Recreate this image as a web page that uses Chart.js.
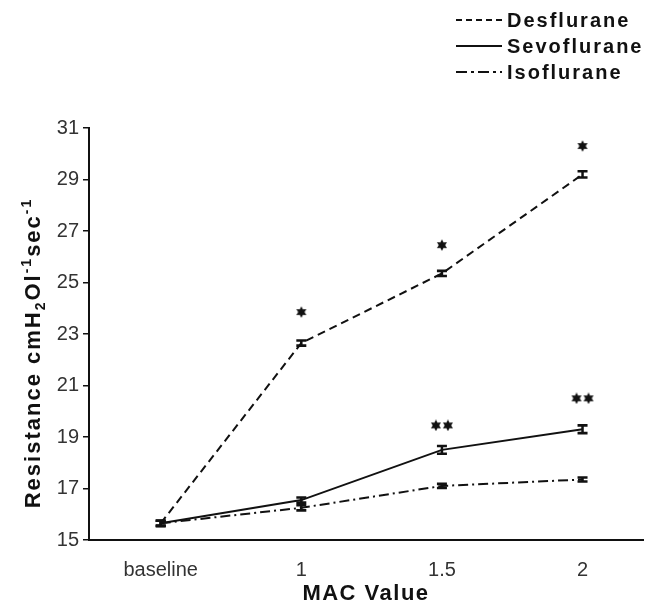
<!DOCTYPE html>
<html>
<head>
<meta charset="utf-8">
<script src="https://cdn.jsdelivr.net/npm/chart.js@4/dist/chart.umd.min.js"></script>
<style>
  body { margin: 0; background: #fff; }
  #wrap { position: relative; width: 650px; height: 605px; }
  #legend {
    position: absolute; left: 456px; top: 7px;
    font: bold 20px "Liberation Sans", Arial, sans-serif;
    letter-spacing: 2px; color: #111;
  }
  .item { display: flex; align-items: center; height: 26px; }
  .item svg { margin-right: 5px; }
</style>
</head>
<body>
<div id="wrap">
  <canvas id="c" width="650" height="605"></canvas>
  <div id="legend"></div>
</div>
<script>
const FONT = '"Liberation Sans", Arial, sans-serif';

// data
const categories = ["baseline", "1", "1.5", "2"];
const desflurane = [15.65, 22.65, 25.35, 29.2];
const sevoflurane = [15.65, 16.55, 18.5, 19.3];
const isoflurane = [15.65, 16.25, 17.1, 17.35];
const desErr = [0.1, 0.1, 0.1, 0.12];
const sevoErr = [0.1, 0.1, 0.15, 0.15];
const isoErr = [0.1, 0.1, 0.08, 0.08];
// significance marks: [category index, y position]
const singleStars = [[1, 23.85], [2, 26.45], [3, 30.3]];
const doubleStars = [[2, 19.45], [3, 20.5]];
const yTicks = [15, 17, 19, 21, 23, 25, 27, 29, 31];

const series = [
    { label: "Desflurane", values: desflurane, err: desErr, dash: [8, 5], svgDash: "6 4" },
    { label: "Sevoflurane", values: sevoflurane, err: sevoErr, dash: [], svgDash: "" },
    { label: "Isoflurane", values: isoflurane, err: isoErr, dash: [10, 4, 2, 4], svgDash: "11 4 3 4" }
];

// star markers (filled six-pointed)
function starImage(count) {
    const c = document.createElement("canvas");
    const gap = 12;
    c.width = 12 + gap * (count - 1);
    c.height = 12;
    const g = c.getContext("2d");
    g.fillStyle = "#111";
    for (let k = 0; k < count; k++) {
        const cx = 6 + k * gap, cy = 6;
        g.beginPath();
        for (let i = 0; i < 12; i++) {
            const r = i % 2 === 0 ? 5.8 : 3.2;
            const a = -Math.PI / 2 + i * Math.PI / 6;
            const px = cx + r * Math.cos(a), py = cy + r * Math.sin(a);
            if (i === 0) g.moveTo(px, py); else g.lineTo(px, py);
        }
        g.closePath();
        g.fill();
    }
    return c;
}
const star1 = starImage(1);
const star2 = starImage(2);

const datasets = series.map(s => ({
    label: s.label,
    data: s.values.map((v, i) => ({ x: i, y: v })),
    errors: s.err,
    borderColor: "#111",
    borderWidth: 2,
    borderDash: s.dash,
    pointRadius: 0,
    fill: false,
    tension: 0
}));
datasets.push({
    label: "sig",
    data: singleStars.map(p => ({ x: p[0], y: p[1] })).concat(doubleStars.map(p => ({ x: p[0], y: p[1] }))),
    showLine: false,
    pointStyle: singleStars.map(() => star1).concat(doubleStars.map(() => star2)),
    pointRadius: 6
});

// error bars drawn through the scales
const errorBars = {
    id: "errorBars",
    afterDatasetsDraw(chart) {
        const ctx = chart.ctx;
        const yScale = chart.scales.y;
        ctx.save();
        ctx.strokeStyle = "#111";
        ctx.setLineDash([]);
        chart.data.datasets.forEach((ds, di) => {
            if (!ds.errors) return;
            chart.getDatasetMeta(di).data.forEach((pt, i) => {
                const v = ds.data[i].y, e = ds.errors[i];
                const top = yScale.getPixelForValue(v + e);
                const bot = yScale.getPixelForValue(v - e);
                ctx.lineWidth = 2.5;
                ctx.beginPath();
                ctx.moveTo(pt.x, top); ctx.lineTo(pt.x, bot);
                ctx.stroke();
                ctx.lineWidth = 2.6;
                ctx.beginPath();
                ctx.moveTo(pt.x - 5, top); ctx.lineTo(pt.x + 5, top);
                ctx.moveTo(pt.x - 5, bot); ctx.lineTo(pt.x + 5, bot);
                ctx.stroke();
            });
        });
        ctx.restore();
    }
};

// axis titles (y title has sub/superscripts)
const axisTitles = {
    id: "axisTitles",
    afterDraw(chart) {
        const ctx = chart.ctx;
        const area = chart.chartArea;
        ctx.save();
        ctx.fillStyle = "#111";
        ctx.textBaseline = "alphabetic";
        if ("letterSpacing" in ctx) ctx.letterSpacing = "1.5px";
        ctx.font = "bold 22px " + FONT;
        ctx.textAlign = "center";
        ctx.fillText("MAC Value", (area.left + area.right) / 2, 600);

        if ("letterSpacing" in ctx) ctx.letterSpacing = "2px";
        const parts = [
            { t: "Resistance cmH", size: 22, dy: 0 },
            { t: "2", size: 14, dy: 5 },
            { t: "Ol", size: 22, dy: 0 },
            { t: "-1", size: 14, dy: -9 },
            { t: "sec", size: 22, dy: 0 },
            { t: "-1", size: 14, dy: -9 }
        ];
        ctx.textAlign = "left";
        let total = 0;
        parts.forEach(p => {
            ctx.font = "bold " + p.size + "px " + FONT;
            p.w = ctx.measureText(p.t).width;
            total += p.w;
        });
        ctx.translate(40, 353);
        ctx.rotate(-Math.PI / 2);
        let x = -total / 2;
        parts.forEach(p => {
            ctx.font = "bold " + p.size + "px " + FONT;
            ctx.fillText(p.t, x, p.dy);
            x += p.w;
        });
        ctx.restore();
    }
};

new Chart(document.getElementById("c"), {
    type: "line",
    data: { datasets },
    options: {
        responsive: false,
        animation: false,
        layout: { padding: { top: 128, right: 5, left: 0, bottom: 0 } },
        plugins: { legend: { display: false }, tooltip: { enabled: false } },
        scales: {
            x: {
                type: "linear",
                min: -0.51,
                max: 3.43,
                afterBuildTicks: scale => { scale.ticks = categories.map((c, i) => ({ value: i })); },
                afterFit: scale => { scale.height = 65; },
                ticks: {
                    callback: v => categories[v],
                    font: { family: FONT, size: 20 },
                    color: "#333",
                    padding: 10,
                    maxRotation: 0,
                    autoSkip: false
                },
                grid: { display: false },
                border: { color: "#111", width: 2 }
            },
            y: {
                min: 15,
                max: 31,
                afterBuildTicks: scale => { scale.ticks = yTicks.map(v => ({ value: v })); },
                afterFit: scale => { scale.width = 89; },
                ticks: {
                    font: { family: FONT, size: 20 },
                    color: "#333",
                    padding: 4
                },
                grid: { drawOnChartArea: false, tickLength: 6, color: "#111", lineWidth: 1.5 },
                border: { color: "#111", width: 2 }
            }
        }
    },
    plugins: [errorBars, axisTitles]
});

// legend
const legend = document.getElementById("legend");
series.forEach(s => {
    const row = document.createElement("div");
    row.className = "item";
    row.innerHTML = '<svg width="46" height="6"><line x1="0" y1="3" x2="46" y2="3" stroke="#111" stroke-width="2"' +
        (s.svgDash ? ' stroke-dasharray="' + s.svgDash + '"' : '') + '/></svg><span>' + s.label + '</span>';
    legend.appendChild(row);
});
</script>
</body>
</html>
